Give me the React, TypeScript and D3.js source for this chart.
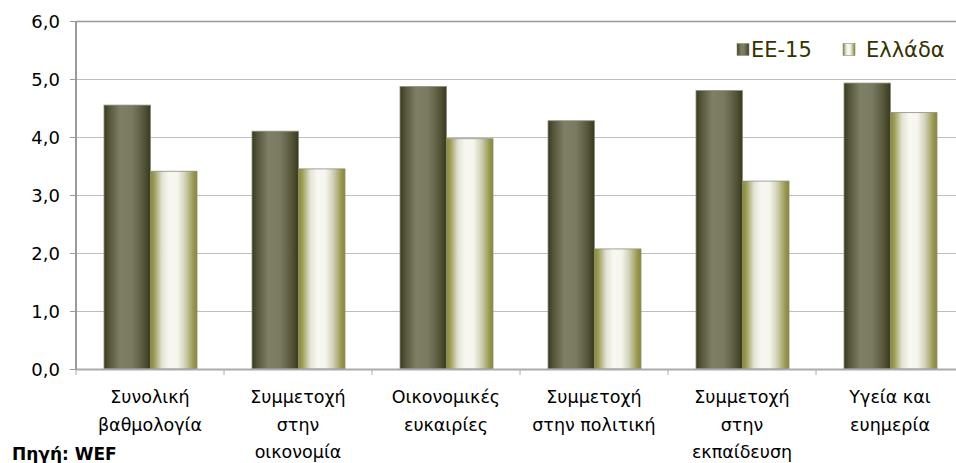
import React, { useRef, useEffect } from "react";
import * as d3 from "d3";

// Τιμές δεικτών (WEF), ΕΕ-15 έναντι Ελλάδας
const categories = [
  ["Συνολική", "βαθμολογία"],
  ["Συμμετοχή", "στην", "οικονομία"],
  ["Οικονομικές", "ευκαιρίες"],
  ["Συμμετοχή", "στην πολιτική"],
  ["Συμμετοχή", "στην", "εκπαίδευση"],
  ["Υγεία και", "ευημερία"],
];
const seriesNames = ["ΕΕ-15", "Ελλάδα"];
const eu15 = [4.55, 4.1, 4.87, 4.28, 4.8, 4.93];
const greece = [3.41, 3.45, 3.97, 2.07, 3.24, 4.42];
const yTicks = [0, 1, 2, 3, 4, 5, 6];

const font = "'DejaVu Sans', Verdana, sans-serif";

const App: React.FC = () => {
  const ref = useRef<SVGSVGElement | null>(null);

  useEffect(() => {
    if (!ref.current) return;
    const width = 956;
    const height = 463;
    const left = 76, top = 21, bottom = 369;
    const step = 148;

    const svg = d3.select(ref.current).attr("width", width).attr("height", height);
    svg.selectAll("*").remove();

    // gradients
    const defs = svg.append("defs");
    const dark = defs.append("linearGradient").attr("id", "gDark").attr("x1", 0).attr("x2", 1).attr("y1", 0).attr("y2", 0);
    [["0%", "#3b3c1e"], ["12%", "#55563a"], ["35%", "#7f7f66"], ["60%", "#7a7a60"], ["85%", "#56573a"], ["100%", "#393a1c"]]
      .forEach(([o, c]) => dark.append("stop").attr("offset", o).attr("stop-color", c));
    const light = defs.append("linearGradient").attr("id", "gLight").attr("x1", 0).attr("x2", 1).attr("y1", 0).attr("y2", 0);
    [["0%", "#8a8a34"], ["8%", "#9c9c55"], ["25%", "#e2e2d4"], ["40%", "#f8f8f2"], ["58%", "#f6f6ee"], ["75%", "#cfcfb6"], ["92%", "#99994e"], ["100%", "#87872f"]]
      .forEach(([o, c]) => light.append("stop").attr("offset", o).attr("stop-color", c));

    const y = d3.scaleLinear().domain([0, 6]).range([bottom, top]);
    const x0 = d3.scaleBand<number>().domain(d3.range(categories.length)).range([left, left + step * categories.length]).paddingInner(0).paddingOuter(0);
    const x1 = d3.scaleBand<number>().domain([0, 1]).range([28, 28 + 93]);

    // gridlines
    svg.append("g").selectAll("line").data(yTicks.filter((t) => t > 0)).join("line")
      .attr("x1", left).attr("x2", width).attr("y1", (d) => y(d) + 0.5).attr("y2", (d) => y(d) + 0.5)
      .attr("stroke", (d) => (d === 6 ? "#999" : "#bdbdbd")).attr("stroke-width", (d) => (d === 6 ? 1.5 : 1));

    // bars
    const data = [eu15, greece];
    const g = svg.append("g");
    categories.forEach((_, i) => {
      data.forEach((vals, s) => {
        g.append("rect")
          .attr("x", x0(i)! + x1(s)!)
          .attr("y", y(vals[i]))
          .attr("width", x1.bandwidth())
          .attr("height", bottom - y(vals[i]))
          .attr("fill", s === 0 ? "url(#gDark)" : "url(#gLight)")
          .attr("stroke", "#8c8c80")
          .attr("stroke-width", 0.8);
      });
    });

    // y axis
    svg.append("line").attr("x1", left).attr("x2", left).attr("y1", top).attr("y2", bottom + 1)
      .attr("stroke", "#999").attr("stroke-width", 2);
    svg.append("g").selectAll("line").data(yTicks).join("line")
      .attr("x1", left - 6).attr("x2", left).attr("y1", (d) => y(d) + 0.5).attr("y2", (d) => y(d) + 0.5)
      .attr("stroke", "#999");
    svg.append("g").selectAll("text").data(yTicks).join("text")
      .attr("x", 60).attr("y", (d) => y(d) + 7)
      .attr("text-anchor", "end").attr("font-family", font).attr("font-size", 18).attr("fill", "#000")
      .text((d) => d3.format(".1f")(d).replace(".", ","));

    // x axis
    svg.append("line").attr("x1", left).attr("x2", width).attr("y1", bottom + 0.5).attr("y2", bottom + 0.5)
      .attr("stroke", "#aaa").attr("stroke-width", 2);
    svg.append("g").selectAll("line").data(d3.range(categories.length + 1)).join("line")
      .attr("x1", (d) => left + d * step).attr("x2", (d) => left + d * step)
      .attr("y1", bottom).attr("y2", bottom + 6).attr("stroke", "#aaa");

    categories.forEach((lines, i) => {
      const t = svg.append("text").attr("font-family", font).attr("font-size", 17.5)
        .attr("text-anchor", "middle").attr("fill", "#000");
      lines.forEach((ln, j) => {
        t.append("tspan").attr("x", x0(i)! + step / 2).attr("y", 403 + j * 27.5).text(ln);
      });
    });

    // legend
    const legend = [
      { name: seriesNames[0], fill: "url(#gDark)", mx: 737, tx: 751 },
      { name: seriesNames[1], fill: "url(#gLight)", mx: 843, tx: 866 },
    ];
    legend.forEach((l) => {
      svg.append("rect").attr("x", l.mx).attr("y", 43.5).attr("width", 12).attr("height", 12)
        .attr("fill", l.fill).attr("stroke", "#8c8c80").attr("stroke-width", 0.6);
      svg.append("text").attr("x", l.tx).attr("y", 57).attr("font-family", font).attr("font-size", 21)
        .attr("fill", "#333300").text(l.name);
    });

    // source
    svg.append("text").attr("x", 12).attr("y", 460).attr("font-family", font).attr("font-size", 17)
      .attr("font-weight", "bold").attr("fill", "#000").text("Πηγή: WEF");
  }, []);

  return <svg ref={ref} style={{ position: "absolute", left: 0, top: 0 }}></svg>;
};

export default App;
